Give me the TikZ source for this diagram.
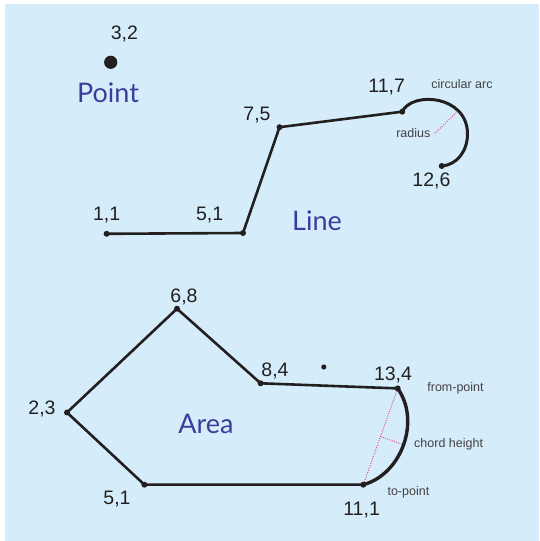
\documentclass[tikz,border=0pt]{standalone}
\usepackage{fontspec}
\setmainfont{Liberation Sans}
\newfontfamily\kindfont{Lato}
\usetikzlibrary{calc}
\definecolor{gBack}{HTML}{D5EDFA}
\definecolor{gInk}{HTML}{231F20}
\definecolor{gBlue}{HTML}{3A3E9B}
\definecolor{gPink}{HTML}{E8407A}
\tikzset{
  segline/.style={draw=gInk, line width=2.6pt, line join=miter},
  arcline/.style={segline, line width=3.4pt},
  guide/.style={draw=gPink, line width=0.9pt, dash pattern=on 1pt off 1.4pt},
  coordlbl/.style={font=\fontsize{19.5}{21}\selectfont, text=gInk, inner sep=0pt},
  notelbl/.style={font=\fontsize{12.5}{14}\selectfont, text=gInk!85, inner sep=0pt},
  kindlbl/.style={font=\kindfont\fontsize{27}{30}\selectfont, text=gBlue, inner sep=0pt},
}

\begin{document}
\begin{tikzpicture}[x=1pt, y=1pt]
        \useasboundingbox (0,0) rectangle (539,541);
        \fill[gBack] (5,0) rectangle (539,537);
        % point
        \coordinate (p32) at (110.7,478.7);
        \fill[gInk] (p32) circle (6.6pt);
        \node[coordlbl] (t32) at (124.4,506.6) {3,2};
        \node[kindlbl] (kpoint) at (108,448) {Point};
        % line
        \coordinate (l11) at (106.6,307.2);
        \coordinate (l51) at (243,308);
        \coordinate (l75) at (279.5,413.8);
        \coordinate (l117) at (402.2,429.3);
        \coordinate (arcR) at (467.5,407);
        \coordinate (l126) at (441.7,375);
        \draw[segline] (l11) -- (l51) -- (l75) -- (l117);
        \draw[segline, line width=3pt] (l117) .. controls (412,450) and (467.5,446) .. (arcR)
          .. controls (467.5,390) and (457,376) .. (l126);
        \coordinate (rc) at (434.8,407.6);
        \coordinate (rr) at (457.2,429.3);
        \draw[guide] (rc) -- (rr);
        \node[coordlbl] (t11) at (106.6,326.2) {1,1};
        \node[coordlbl] (t51) at (209.7,326.2) {5,1};
        \node[coordlbl] (t75) at (257,426) {7,5};
        \node[coordlbl] (t117) at (386.7,454) {11,7};
        \node[coordlbl] (t126) at (431.4,360.5) {12,6};
        \node[notelbl] (narc) at (462,457) {circular arc};
        \node[notelbl, anchor=east] (nrad) at (430.5,407.6) {radius};
        \node[kindlbl] (kline) at (317,320.3) {Line};
        % area
        \coordinate (a68) at (177,232.3);
        \coordinate (a23) at (67,128.5);
        \coordinate (a51) at (144.4,56.3);
        \coordinate (a111) at (363.3,56.3);
        \coordinate (a134) at (397.7,152.6);
        \coordinate (a84) at (260.6,157.7);
        \coordinate (stray) at (323.8,174);
        \draw[segline] (a134) -- (a84) -- (a68) -- (a23) -- (a51) -- (a111);
        \draw[arcline] (a134) to[bend left=55] (a111);
        \coordinate (chmid) at ($(a134)!0.5!(a111)$);
        \coordinate (charc) at ($(chmid)!23pt!-90:(a134)$);
        \draw[guide] (a134) -- (a111);
        \draw[guide] (chmid) -- (charc);
        \fill[gInk] (stray) circle (2.6pt);
        \node[coordlbl] (t68) at (184,243.6) {6,8};
        \node[coordlbl] (t23) at (42,132) {2,3};
        \node[coordlbl] (ta51) at (117,41.5) {5,1};
        \node[coordlbl] (t111) at (361.6,31.2) {11,1};
        \node[coordlbl] (t134) at (393,166.3) {13,4};
        \node[coordlbl] (t84) at (275,169.7) {8,4};
        \node[notelbl] (nfrom) at (455.5,153.2) {from-point};
        \node[notelbl] (nchord) at (448.6,96.5) {chord height};
        \node[notelbl] (nto) at (408.4,48.7) {to-point};
        \node[kindlbl] (karea) at (206,117.5) {Area};
        % vertex dots
        \foreach \v in {l11,l51,l75,l117,l126,a68,a23,a51,a111,a134,a84}
          \fill[gInk] (\v) circle (3pt);
      \end{tikzpicture}
\end{document}
